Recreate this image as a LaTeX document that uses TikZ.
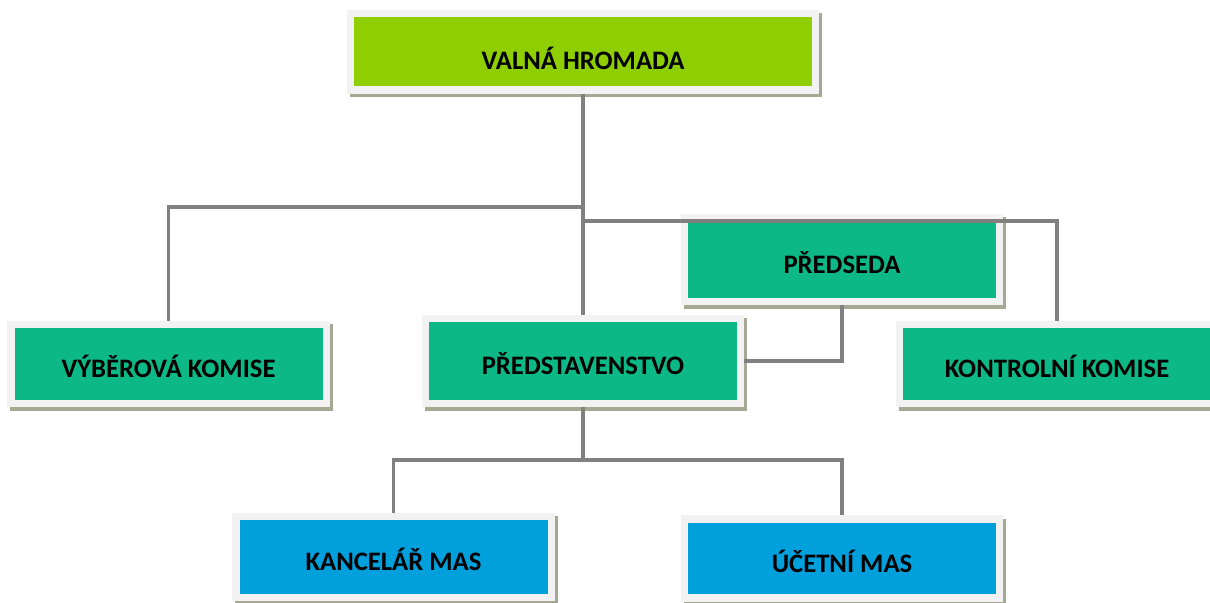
\documentclass[tikz,border=0pt]{standalone}
\usepackage{fontspec}
\setmainfont{Carlito}
\usepackage{tikz}
\usetikzlibrary{shadows}

\definecolor{limegreen}{HTML}{8FCE00}
\definecolor{tealgreen}{HTML}{0DB887}
\definecolor{skyblue}{HTML}{00A0DC}
\definecolor{framegray}{HTML}{F2F2F2}
\definecolor{shadowgray}{HTML}{A6A894}
\definecolor{linegray}{HTML}{808080}

\begin{document}
\begin{tikzpicture}[x=0.75pt,y=-0.75pt]
  \tikzstyle{orgbox}=[rectangle,draw=framegray,line width=5.6pt,inner sep=0pt,
    minimum width=236.6pt,minimum height=59.6pt,text height=20.5pt,text depth=0pt,
    font=\fontsize{20}{24}\selectfont\bfseries,
    drop shadow={shadow xshift=2.25pt,shadow yshift=-2.6pt,opacity=1,
      fill=shadowgray,draw=shadowgray,line width=5.6pt}]
  \tikzstyle{orgline}=[draw=linegray,line width=2.4pt]
  \useasboundingbox (0,0) rectangle (1210,603);
  \clip (0,0) rectangle (1210,603);

  \node[orgbox,fill=limegreen,minimum width=349pt,minimum height=57.4pt,text height=27pt] (vh) at (583,51.5) {VALNÁ HROMADA};

  \node[orgbox,fill=tealgreen] (vk) at (168.5,364) {VÝBĚROVÁ KOMISE};
  \node[orgbox,fill=tealgreen,minimum height=64pt] (pv) at (583,361) {PŘEDSTAVENSTVO};
  \node[orgbox,fill=tealgreen,minimum height=63pt] (ps) at (842,259.5) {PŘEDSEDA};
  \node[orgbox,fill=tealgreen] (kk) at (1057,364) {KONTROLNÍ KOMISE};

  % lower level
  \node[orgbox,fill=skyblue,minimum height=61pt] (km) at (393.5,557) {KANCELÁŘ MAS};
  \node[orgbox,fill=skyblue,minimum height=59pt] (um) at (842,558.5) {ÚČETNÍ MAS};

  % branch points
  \coordinate (b1) at (583,207);
  \coordinate (b2) at (583,221);
  \coordinate (b3) at (583,460);

  % edges
  \draw[orgline] (vh.south) -- (pv.north);
  \draw[orgline] (vk.north) |- (b1);
  \draw[orgline] (kk.north) |- (b2);
  \draw[orgline] (ps.south) |- (pv.east);
  \draw[orgline] (pv.south) -- (b3);
  \draw[orgline] (km.north) |- (b3) -| (um.north);

\end{tikzpicture}
\end{document}
